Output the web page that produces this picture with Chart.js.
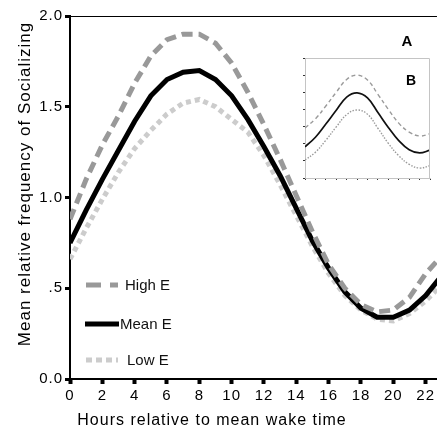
<!DOCTYPE html>
<html>
<head>
<meta charset="utf-8">
<script src="https://cdn.jsdelivr.net/npm/chart.js@4.4.1/dist/chart.umd.min.js"></script>
<style>
  html, body { margin: 0; padding: 0; background: #fff; }
  #wrap { position: relative; width: 437px; height: 430px; }
  #main { position: absolute; left: 0; top: 0; }
  #inset { position: absolute; left: 300px; top: 55px; }
</style>
</head>
<body>
<div id="wrap">
  <canvas id="main" width="437" height="430"></canvas>
  <canvas id="inset" width="134" height="130"></canvas>
</div>
<script>
// values, one point per hour
const hours = [0, 1, 2, 3, 4, 5, 6, 7, 8, 9, 10, 11, 12, 13, 14, 15, 16, 17, 18, 19, 20, 21, 22, 23];
const highE = [0.88, 1.10, 1.29, 1.45, 1.63, 1.78, 1.87, 1.90, 1.90, 1.85, 1.74, 1.58, 1.40, 1.21, 1.01, 0.81, 0.63, 0.50, 0.41, 0.37, 0.38, 0.45, 0.58, 0.68];
const meanE = [0.75, 0.93, 1.10, 1.26, 1.42, 1.56, 1.65, 1.69, 1.70, 1.65, 1.56, 1.43, 1.28, 1.12, 0.94, 0.76, 0.61, 0.48, 0.39, 0.34, 0.34, 0.38, 0.46, 0.57];
const lowE = [0.66, 0.83, 0.99, 1.14, 1.27, 1.37, 1.46, 1.52, 1.54, 1.50, 1.43, 1.36, 1.23, 1.07, 0.90, 0.73, 0.58, 0.46, 0.38, 0.33, 0.32, 0.36, 0.43, 0.52];
const seriesNames = ['High E', 'Mean E', 'Low E'];

const xTicks = [0, 2, 4, 6, 8, 10, 12, 14, 16, 18, 20, 22];
const yTicks = [0, 0.5, 1, 1.5, 2];
const yTickLabels = ['0.0', '.5', '1.0', '1.5', '2.0'];
const xTitle = 'Hours relative to mean wake time';
const yTitle = 'Mean relative frequency of Socializing';

// inset (panel B), arbitrary units
const insetHours = [0, 2, 4, 6, 8, 10, 12, 14, 16, 18, 20, 22, 24];
const insetHigh = [2.92, 3.45, 4.20, 5.00, 5.75, 6.00, 5.72, 4.88, 4.00, 3.20, 2.68, 2.45, 2.58];
const insetMean = [1.82, 2.38, 3.15, 3.95, 4.72, 4.97, 4.67, 3.82, 2.95, 2.18, 1.65, 1.46, 1.63];
const insetLow = [1.05, 1.50, 2.20, 2.98, 3.70, 3.97, 3.72, 2.90, 2.02, 1.30, 0.80, 0.58, 0.72];

const FONT = 'Liberation Sans, Arial, Helvetica, sans-serif';
Chart.defaults.font.family = FONT;
Chart.defaults.color = '#000';

function toPoints(xs, ys) {
  return xs.map((x, i) => ({ x: x, y: ys[i] }));
}

// the original figure's axis text is slightly tracked
const tracking = {
  id: 'tracking',
  beforeDraw(chart) {
    chart.ctx.letterSpacing = '1px';
  }
};

// draws axis titles (off-centre in the original), top frame line, legend and "A"
const mainDecor = {
  id: 'mainDecor',
  afterDraw(chart) {
    const ctx = chart.ctx;
    const area = chart.chartArea;
    ctx.save();
    ctx.strokeStyle = '#000';
    ctx.lineWidth = 1;
    ctx.beginPath();
    ctx.moveTo(area.left, area.top + 0.5);
    ctx.lineTo(area.right, area.top + 0.5);
    ctx.stroke();

    // axis titles
    ctx.letterSpacing = '1px';
    ctx.fillStyle = '#000';
    ctx.textAlign = 'center';
    ctx.textBaseline = 'middle';
    ctx.font = '16px ' + FONT;
    ctx.fillText(xTitle, 212, 421);
    ctx.save();
    ctx.translate(25, 184);
    ctx.rotate(-Math.PI / 2);
    ctx.font = '17px ' + FONT;
    ctx.fillText(yTitle, 0, 0);
    ctx.restore();

    // legend rows (line start, line end, text x, y)
    ctx.letterSpacing = '0px';
    const rows = [
      { x0: 86, x1: 118, tx: 125, y: 285, dash: [15, 9] },
      { x0: 85, x1: 119, tx: 120, y: 324, dash: [] },
      { x0: 86, x1: 118, tx: 127, y: 360, dash: [6, 4] }
    ];
    chart.data.datasets.forEach((ds, i) => {
      const r = rows[i];
      ctx.strokeStyle = ds.borderColor;
      ctx.lineWidth = ds.borderWidth;
      ctx.setLineDash(r.dash);
      ctx.beginPath();
      ctx.moveTo(r.x0, r.y);
      ctx.lineTo(r.x1, r.y);
      ctx.stroke();
      ctx.setLineDash([]);
      ctx.fillStyle = '#111';
      ctx.font = '15px ' + FONT;
      ctx.textBaseline = 'middle';
      ctx.textAlign = 'left';
      ctx.fillText(ds.label, r.tx, r.y + 1);
    });

    ctx.font = 'bold 15px ' + FONT;
    ctx.textAlign = 'center';
    ctx.fillStyle = '#000';
    ctx.fillText('A', 407, 42);
    ctx.restore();
  }
};

new Chart(document.getElementById('main'), {
  type: 'line',
  plugins: [tracking, mainDecor],
  data: {
    datasets: [
      {
        label: seriesNames[0],
        data: toPoints(hours, highE),
        borderColor: '#999999',
        borderWidth: 5,
        borderDash: [11, 6],
        pointRadius: 0,
        tension: 0
      },
      {
        label: seriesNames[1],
        data: toPoints(hours, meanE),
        borderColor: '#000000',
        borderWidth: 5,
        pointRadius: 0,
        tension: 0
      },
      {
        label: seriesNames[2],
        data: toPoints(hours, lowE),
        borderColor: '#cccccc',
        borderWidth: 5,
        borderDash: [5, 4],
        pointRadius: 0,
        tension: 0
      }
    ]
  },
  options: {
    responsive: false,
    animation: false,
    devicePixelRatio: 1,
    layout: { padding: { top: 16, right: 0, left: 0, bottom: 0 } },
    plugins: {
      legend: { display: false },
      tooltip: { enabled: false }
    },
    scales: {
      x: {
        type: 'linear',
        min: 0,
        max: 22.7,
        afterBuildTicks: (scale) => { scale.ticks = xTicks.map(v => ({ value: v })); },
        afterFit: (scale) => { scale.height = 51; },
        ticks: { font: { size: 15 }, color: '#000', padding: 3, maxRotation: 0, autoSkip: false },
        grid: { drawOnChartArea: false, drawTicks: true, tickLength: 5, tickWidth: 4, tickColor: '#000' },
        border: { color: '#000', width: 2 }
      },
      y: {
        min: 0,
        max: 2,
        afterBuildTicks: (scale) => { scale.ticks = yTicks.map(v => ({ value: v })); },
        afterFit: (scale) => { scale.width = 70; },
        ticks: {
          font: { size: 15 },
          color: '#000',
          padding: 2,
          callback: (value) => yTickLabels[yTicks.indexOf(value)]
        },
        grid: { drawOnChartArea: false, drawTicks: true, tickLength: 5, tickWidth: 3, tickColor: '#000' },
        border: { color: '#000', width: 2 }
      }
    }
  }
});

// inset frame and "B"
const insetDecor = {
  id: 'insetDecor',
  afterDraw(chart) {
    const ctx = chart.ctx;
    const a = chart.chartArea;
    ctx.save();
    ctx.strokeStyle = '#c4c4c4';
    ctx.lineWidth = 1;
    ctx.beginPath();
    ctx.moveTo(a.left, a.top + 0.5);
    ctx.lineTo(a.right - 0.5, a.top + 0.5);
    ctx.lineTo(a.right - 0.5, a.bottom);
    ctx.stroke();
    ctx.font = 'bold 14px ' + FONT;
    ctx.fillStyle = '#000';
    ctx.textAlign = 'center';
    ctx.textBaseline = 'middle';
    ctx.fillText('B', 111, 26);
    ctx.restore();
  }
};

new Chart(document.getElementById('inset'), {
  type: 'line',
  plugins: [insetDecor],
  data: {
    datasets: [
      {
        data: toPoints(insetHours, insetHigh),
        borderColor: '#9a9a9a',
        borderWidth: 1.4,
        borderDash: [4, 3],
        pointRadius: 0,
        tension: 0.4
      },
      {
        data: toPoints(insetHours, insetMean),
        borderColor: '#111111',
        borderWidth: 1.7,
        pointRadius: 0,
        tension: 0.4
      },
      {
        data: toPoints(insetHours, insetLow),
        borderColor: '#9a9a9a',
        borderWidth: 1.4,
        borderDash: [1.5, 1.5],
        pointRadius: 0,
        tension: 0.4
      }
    ]
  },
  options: {
    responsive: false,
    animation: false,
    devicePixelRatio: 1,
    layout: { padding: { top: 3, right: 4, left: 0, bottom: 0 } },
    plugins: { legend: { display: false }, tooltip: { enabled: false } },
    scales: {
      x: {
        type: 'linear',
        min: 0,
        max: 24,
        afterFit: (scale) => { scale.height = 7; },
        ticks: { display: false, stepSize: 2 },
        grid: { drawOnChartArea: false, drawTicks: true, tickLength: 2, tickWidth: 1, tickColor: '#333' },
        border: { color: '#c4c4c4', width: 1 }
      },
      y: {
        min: 0,
        max: 7,
        afterFit: (scale) => { scale.width = 5; },
        ticks: { display: false, stepSize: 1 },
        grid: { drawOnChartArea: false, drawTicks: true, tickLength: 2, tickWidth: 1, tickColor: '#333' },
        border: { color: '#c4c4c4', width: 1 }
      }
    }
  }
});
</script>
</body>
</html>
